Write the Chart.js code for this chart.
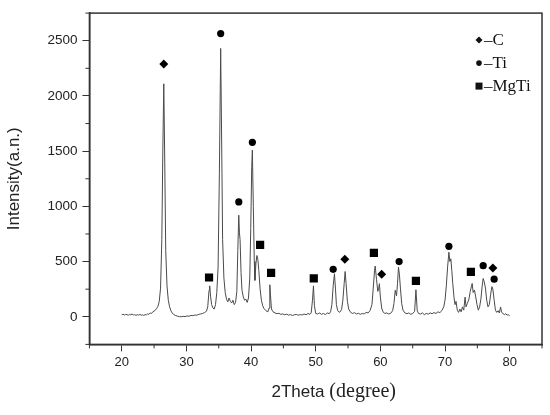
<!DOCTYPE html>
<html>
<head>
<meta charset="utf-8">
<script src="https://cdn.jsdelivr.net/npm/chart.js@4.4.1/dist/chart.umd.min.js"></script>
<style>
  html, body { margin: 0; padding: 0; background: #fff; }
  #wrap { width: 550px; height: 415px; }
</style>
</head>
<body>
<div id="wrap"><canvas id="xrdChart" width="550" height="415"></canvas></div>
<script>
// XRD pattern
let theta = [
  20.0, 20.2, 20.4, 20.6, 20.8, 21.0, 21.2, 21.4, 21.6, 21.8, 22.0, 22.2, 22.4, 22.6, 22.8, 23.0, 23.2, 23.4, 23.6, 23.8,
  24.0, 24.2, 24.4, 24.6, 24.8, 25.0, 25.2, 25.4, 25.6, 25.8, 26.0, 26.2, 26.35, 26.5, 26.65, 26.8, 27.0, 27.2, 27.4, 27.6,
  27.8, 28.0, 28.3, 28.6, 28.9, 29.2, 29.5, 29.8, 30.1, 30.4, 30.7, 31.0, 31.3, 31.6, 31.9, 32.2, 32.5, 32.8, 33.1, 33.3,
  33.5, 33.6, 33.75, 33.9, 34.1, 34.3, 34.5, 34.7, 34.9, 35.1, 35.3, 35.45, 35.6, 35.8, 36.0, 36.2, 36.4, 36.6, 36.8, 37.0,
  37.2, 37.4, 37.6, 37.8, 37.95, 38.1, 38.2, 38.3, 38.45, 38.6, 38.8, 39.0, 39.2, 39.4, 39.6, 39.8, 39.95, 40.1, 40.2, 40.35,
  40.5, 40.6, 40.75, 40.9, 41.05, 41.2, 41.4, 41.6, 41.8, 42.0, 42.3, 42.6, 42.8, 42.9, 43.0, 43.15, 43.4, 43.7, 44.0, 44.3,
  44.6, 44.9, 45.2, 45.5, 45.8, 46.1, 46.4, 46.7, 47.0, 47.3, 47.6, 47.9, 48.2, 48.5, 48.8, 49.1, 49.3, 49.5, 49.65, 49.8,
  50.0, 50.3, 50.6, 50.9, 51.2, 51.5, 51.8, 52.1, 52.3, 52.5, 52.7, 52.9, 53.05, 53.2, 53.4, 53.7, 54.0, 54.2, 54.4, 54.55,
  54.7, 54.9, 55.1, 55.4, 55.7, 56.0, 56.3, 56.6, 56.9, 57.2, 57.5, 57.8, 58.1, 58.4, 58.7, 58.9, 59.1, 59.2, 59.4, 59.6,
  59.75, 59.85, 60.0, 60.2, 60.4, 60.7, 61.0, 61.3, 61.6, 61.9, 62.1, 62.3, 62.5, 62.65, 62.8, 62.95, 63.1, 63.3, 63.5, 63.8,
  64.1, 64.4, 64.7, 65.0, 65.3, 65.5, 65.7, 65.9, 66.2, 66.5, 66.8, 67.1, 67.4, 67.7, 68.0, 68.3, 68.6, 68.9, 69.2, 69.5,
  69.8, 70.0, 70.2, 70.4, 70.6, 70.75, 70.9, 71.05, 71.2, 71.4, 71.55, 71.7, 71.9, 72.1, 72.3, 72.5, 72.7, 72.9, 73.1, 73.25,
  73.45, 73.7, 73.9, 74.1, 74.2, 74.35, 74.55, 74.75, 74.95, 75.15, 75.35, 75.55, 75.75, 75.9, 76.05, 76.25, 76.45, 76.65, 76.85, 77.05,
  77.25, 77.4, 77.6, 77.8, 78.0, 78.2, 78.4, 78.6, 78.75, 78.95, 79.2, 79.4, 79.6, 79.8, 80.0
];
let intensity = [
  18, 24, 15, 22, 20, 14, 22, 18, 25, 16, 20, 12, 19, 15, 22, 14, 18, 12, 20, 17,
  26, 22, 35, 30, 45, 52, 60, 75, 95, 140, 260, 700, 1500, 2110, 1400, 600, 280, 150, 90, 55,
  35, 22, 12, 6, 2, 0, 4, 2, 8, 5, 12, 10, 16, 14, 22, 25, 30, 38, 50, 90,
  240, 280, 180, 110, 80, 70, 110, 220, 450, 1300, 2430, 1600, 700, 350, 220, 160, 135, 170, 140, 125,
  150, 110, 130, 230, 600, 920, 760, 700, 400, 240, 180, 150, 160, 130, 170, 350, 800, 1350, 1510, 1000,
  500, 330, 480, 555, 520, 420, 250, 150, 100, 75, 55, 45, 80, 290, 200, 70, 45, 35, 28, 32,
  22, 26, 18, 24, 15, 20, 12, 18, 22, 14, 20, 16, 25, 18, 30, 22, 35, 150, 280, 100,
  30, 25, 35, 22, 30, 20, 35, 28, 45, 110, 280, 390, 260, 110, 55, 40, 65, 150, 300, 410,
  300, 140, 70, 40, 30, 38, 25, 32, 22, 30, 26, 40, 35, 55, 110, 260, 420, 460, 340, 230,
  260, 300, 180, 80, 45, 30, 35, 25, 32, 55, 120, 240, 190, 300, 450, 380, 260, 120, 60, 35,
  28, 35, 22, 30, 50, 245, 55, 30, 25, 35, 20, 30, 24, 35, 28, 38, 30, 45, 38, 55,
  90, 150, 280, 450, 585, 500, 525, 420, 300, 170, 110, 140, 60, 40, 70, 45, 90, 60, 178, 90,
  120, 160, 230, 280, 302, 220, 243, 180, 110, 60, 90, 160, 280, 347, 320, 260, 150, 90, 110, 200,
  273, 250, 150, 60, 40, 55, 35, 89, 40, 30, 20, 28, 15, 18, 10
];

// phase markers
let cTheta = [26.5, 54.5, 60.2, 77.4];
let cMark = [2290, 520, 385, 442];
let tiTheta = [35.3, 38.1, 40.2, 52.7, 62.9, 70.6, 75.9, 77.6];
let tiMark = [2565, 1040, 1580, 430, 500, 638, 463, 341];
let mgtiTheta = [33.5, 41.4, 43.1, 49.7, 59.0, 65.5, 74.0];
let mgtiMark = [356, 652, 398, 347, 578, 326, 407];

// ticks
let xTicks = [20, 30, 40, 50, 60, 70, 80];
let xMinor = [15, 25, 35, 45, 55, 65, 75, 85];
let yTicks = [0, 500, 1000, 1500, 2000, 2500];
let yMinor = [-250, 250, 750, 1250, 1750, 2250, 2750];

let legendNames = ['\u2013C', '\u2013Ti', '\u2013MgTi'];
let legendStyles = ['rectRot', 'circle', 'rect'];

let axisColor = '#333';
let textColor = '#222';

function pairs(xs, ys) {
    return xs.map((x, i) => ({ x: x, y: ys[i] }));
}

// small marker shapes for the legend
function drawMark(ctx, style, x, y, r) {
    ctx.beginPath();
    if (style === 'rectRot') {
        ctx.moveTo(x - r, y); ctx.lineTo(x, y - r); ctx.lineTo(x + r, y); ctx.lineTo(x, y + r);
        ctx.closePath();
    } else if (style === 'circle') {
        ctx.arc(x, y, r, 0, Math.PI * 2);
    } else {
        ctx.rect(x - r, y - r, r * 2, r * 2);
    }
    ctx.fill();
}

// frame, minor ticks, legend and x title
let extrasPlugin = {
    id: 'extras',
    afterDraw(chart) {
        let ctx = chart.ctx;
        let a = chart.chartArea;
        let sx = chart.scales.x, sy = chart.scales.y;
        ctx.save();
        ctx.strokeStyle = axisColor;
        ctx.lineWidth = 1.5;
        ctx.strokeRect(a.left, a.top, a.right - a.left, a.bottom - a.top);

        ctx.lineWidth = 1;
        xMinor.forEach(v => {
            let px = sx.getPixelForValue(v);
            ctx.beginPath(); ctx.moveTo(px, a.bottom); ctx.lineTo(px, a.bottom + 4); ctx.stroke();
        });
        yMinor.forEach(v => {
            let py = sy.getPixelForValue(v);
            ctx.beginPath(); ctx.moveTo(a.left, py); ctx.lineTo(a.left - 4, py); ctx.stroke();
        });

        // legend top right
        ctx.fillStyle = '#111';
        ctx.font = '17px "Liberation Serif"';
        ctx.textBaseline = 'middle';
        let sizes = [3.5, 2.8, 3.5];
        legendNames.forEach((name, i) => {
            let ly = a.top + 27 + i * 23;
            drawMark(ctx, legendStyles[i], a.right - 63, ly, sizes[i]);
            ctx.fillText(name, a.right - 58, ly);
        });

        // x title, two fonts
        let p1 = '2Theta', p2 = ' (degree)';
        let f1 = '17px "Liberation Sans"', f2 = '20px "Liberation Serif"';
        ctx.font = f1; let w1 = ctx.measureText(p1).width;
        ctx.font = f2; let w2 = ctx.measureText(p2).width;
        let startX = (a.left + a.right) / 2 + 18 - (w1 + w2) / 2;
        let baseY = chart.height - 18;
        ctx.textBaseline = 'alphabetic';
        ctx.fillStyle = textColor;
        ctx.font = f1; ctx.fillText(p1, startX, baseY);
        ctx.font = f2; ctx.fillText(p2, startX + w1, baseY);
        ctx.restore();
    }
};

let ctx = document.getElementById('xrdChart').getContext('2d');

let xrdChart = new Chart(ctx, {
    type: 'scatter',
    data: {
        datasets: [
            {
                label: 'pattern',
                data: pairs(theta, intensity),
                showLine: true,
                borderColor: '#4a4a4a',
                borderWidth: 1,
                pointRadius: 0,
                tension: 0
            },
            {
                label: 'C',
                data: pairs(cTheta, cMark),
                pointStyle: 'rectRot',
                pointRadius: 4.5,
                backgroundColor: '#000',
                borderWidth: 0
            },
            {
                label: 'Ti',
                data: pairs(tiTheta, tiMark),
                pointStyle: 'circle',
                pointRadius: 3.6,
                backgroundColor: '#000',
                borderWidth: 0
            },
            {
                label: 'MgTi',
                data: pairs(mgtiTheta, mgtiMark),
                pointStyle: 'rect',
                pointRadius: 5.8,
                backgroundColor: '#000',
                borderWidth: 0
            }
        ]
    },
    options: {
        responsive: false,
        animation: false,
        devicePixelRatio: 1,
        layout: { padding: { left: 0, right: 8, top: 10, bottom: 42 } },
        plugins: {
            legend: { display: false },
            tooltip: { enabled: false }
        },
        scales: {
            x: {
                type: 'linear',
                min: 15,
                max: 85,
                afterBuildTicks: scale => { scale.ticks = xTicks.map(v => ({ value: v })); },
                ticks: {
                    color: textColor,
                    font: { family: 'Liberation Sans', size: 13 },
                    padding: 3,
                    maxRotation: 0,
                    callback: v => String(v)
                },
                grid: { drawOnChartArea: false, tickLength: 7, color: axisColor, lineWidth: 1 },
                border: { color: axisColor, width: 1.5 }
            },
            y: {
                type: 'linear',
                min: -250,
                max: 2750,
                afterBuildTicks: scale => { scale.ticks = yTicks.map(v => ({ value: v })); },
                ticks: {
                    color: textColor,
                    font: { family: 'Liberation Sans', size: 13.5 },
                    padding: 5,
                    callback: v => String(v)
                },
                grid: { drawOnChartArea: false, tickLength: 7, color: axisColor, lineWidth: 1 },
                border: { color: axisColor, width: 1.5 },
                title: {
                    display: true,
                    text: 'Intensity(a.n.)',
                    color: textColor,
                    font: { family: 'Liberation Sans', size: 17 },
                    padding: { top: 4, bottom: 18 }
                }
            }
        }
    },
    plugins: [extrasPlugin]
});
</script>
</body>
</html>
